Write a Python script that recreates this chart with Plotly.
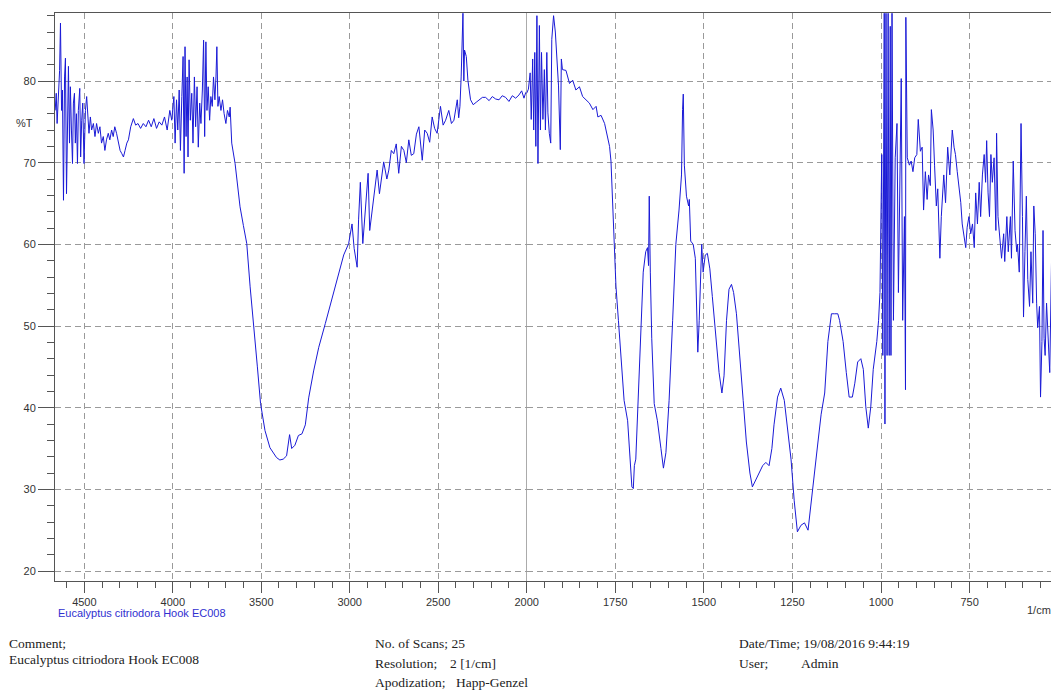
import plotly.graph_objects as go

# ---- data: wavenumber (1/cm) and %T, high range (4666 -> 2000) ----
wn_high = [4665, 4659, 4654, 4646, 4640, 4635, 4629, 4624, 4618, 4612, 4607, 4601, 4596, 4590,
           4584, 4579, 4573, 4567, 4562, 4556, 4551, 4545, 4539, 4534, 4526, 4521, 4515, 4509,
           4502, 4494, 4487, 4481, 4474, 4466, 4459, 4449, 4440, 4431, 4421, 4412, 4403, 4393,
           4384, 4375, 4365, 4356, 4346, 4337, 4328, 4318, 4309, 4298, 4288, 4279, 4270, 4260,
           4251, 4238, 4223, 4210, 4197, 4182, 4167, 4152, 4137, 4122, 4107, 4092, 4077, 4062,
           4047, 4032, 4017, 4006, 3994, 3987, 3979, 3972, 3964, 3957, 3949, 3942, 3936, 3931,
           3925, 3919, 3914, 3908, 3901, 3893, 3886, 3878, 3871, 3863, 3856, 3848, 3841, 3833,
           3826, 3820, 3813, 3807, 3800, 3792, 3785, 3777, 3770, 3762, 3756, 3751, 3745, 3738,
           3728, 3719, 3710, 3700, 3691, 3681, 3676, 3667, 3648, 3620, 3601, 3582, 3563, 3541,
           3522, 3504, 3479, 3451, 3414, 3395, 3376, 3357, 3340, 3328, 3310, 3290, 3270, 3251,
           3232, 3204, 3175, 3138, 3100, 3062, 3034, 3006, 2987, 2975, 2958, 2950, 2940, 2926,
           2908, 2896, 2887, 2864, 2845, 2832, 2808, 2790, 2779, 2765, 2751, 2737, 2723, 2708,
           2694, 2680, 2666, 2652, 2638, 2623, 2609, 2590, 2576, 2562, 2548, 2534, 2520, 2506,
           2487, 2472, 2458, 2440, 2425, 2411, 2400, 2392, 2384, 2377, 2370, 2360, 2355, 2351,
           2341, 2332, 2317, 2302, 2285, 2270, 2250, 2232, 2212, 2194, 2175, 2156, 2138, 2119,
           2100, 2081, 2062, 2043, 2028, 2015, 2005, 2000]
t_high = [76.4, 78.5, 74.8, 77.7, 81.3, 87.1, 76.4, 78.9, 65.4, 80.5, 82.8, 66.2, 77.3, 81.8,
          72.4, 79.3, 74.0, 69.9, 77.3, 78.5, 72.4, 76.0, 69.9, 76.4, 79.1, 70.7, 75.2, 77.3,
          69.9, 76.4, 78.1, 75.2, 73.6, 75.6, 74.0, 74.8, 73.2, 74.8, 73.6, 74.4, 72.4, 73.2,
          71.5, 72.8, 73.6, 72.8, 74.0, 73.2, 74.4, 73.6, 72.4, 71.5, 71.1, 70.7, 71.5, 72.4,
          72.8, 74.4, 75.4, 74.6, 74.8, 74.2, 74.8, 74.4, 75.2, 74.4, 75.4, 74.2, 75.0, 74.6,
          75.6, 74.0, 76.4, 75.2, 78.1, 72.4, 77.7, 74.0, 78.9, 71.5, 78.1, 83.0, 68.7, 84.2,
          73.2, 80.5, 70.7, 82.6, 75.2, 78.5, 72.4, 80.5, 74.4, 79.3, 71.9, 77.3, 74.8, 78.9,
          85.0, 73.2, 84.8, 76.4, 79.3, 75.2, 78.1, 76.9, 80.5, 77.7, 80.5, 84.2, 76.9, 78.1,
          76.4, 77.7, 76.0, 74.8, 76.4, 75.6, 76.8, 72.4, 69.9, 64.6, 62.3, 60.1, 54.8, 50.0,
          45.0, 40.5, 37.2, 35.1, 33.9, 33.6, 33.7, 34.1, 36.7, 35.0, 35.4, 36.6, 36.8, 37.9,
          41.2, 44.5, 47.4, 50.3, 53.5, 56.4, 58.7, 60.1, 62.5, 59.5, 57.2, 63.0, 67.6, 60.1,
          65.8, 68.7, 61.7, 65.8, 69.1, 66.2, 70.1, 68.0, 69.1, 71.5, 71.1, 72.3, 68.7, 72.0,
          71.5, 70.0, 72.8, 70.9, 71.1, 73.5, 74.4, 70.3, 74.0, 73.6, 72.5, 75.6, 74.2, 73.6,
          76.9, 74.6, 75.2, 76.4, 74.8, 75.2, 77.0, 77.7, 75.5, 76.9, 80.5, 88.3, 80.0, 83.8,
          83.0, 80.1, 77.7, 77.1, 77.4, 77.7, 78.0, 78.0, 77.6, 78.1, 77.8, 77.7, 78.2, 78.0,
          77.5, 78.2, 77.9, 78.3, 78.8, 77.9, 78.6, 78.5]

# ---- data: low range (2000 -> 508) ----
wn_low = [2000, 1995, 1990, 1987, 1983, 1980, 1977, 1974, 1971, 1968, 1964, 1961, 1958, 1954,
          1950, 1947, 1943, 1940, 1936, 1932, 1929, 1924, 1919, 1915, 1910, 1905, 1902, 1899,
          1889, 1879, 1870,
          1861, 1851, 1842, 1832, 1823, 1813, 1804, 1799, 1790, 1780, 1776, 1771, 1766, 1762,
          1758, 1753, 1748, 1741, 1734, 1725, 1715, 1709, 1703, 1699, 1696, 1692, 1684, 1678,
          1671, 1664, 1659, 1656, 1654, 1651, 1647, 1640, 1631, 1621, 1614, 1607, 1598, 1588,
          1579, 1570, 1563, 1560, 1558, 1555, 1549, 1543, 1541, 1537, 1530, 1524, 1520, 1517,
          1513, 1508, 1506, 1502, 1496, 1490, 1483, 1476, 1466, 1457, 1449, 1443, 1436, 1429,
          1422, 1416, 1408, 1398, 1389, 1380, 1370, 1363, 1353, 1344, 1334, 1325, 1316, 1308,
          1302, 1292, 1283, 1273, 1264, 1254, 1245, 1236, 1226, 1216, 1206, 1197, 1187, 1178,
          1169, 1159, 1150, 1140, 1131, 1122, 1117, 1107, 1098, 1090, 1081, 1074, 1066, 1057,
          1050, 1043, 1036, 1029, 1022, 1012, 1007, 1003, 998, 995, 991, 989, 986, 983, 980,
          977, 974, 972, 969, 965, 960, 955, 951, 946, 943, 939, 934, 931, 930, 926, 920, 915,
          910, 905, 899, 895, 889, 884, 880, 875, 870, 866, 861, 858, 853, 849, 844, 840, 834,
          830, 823, 818, 812, 806, 799, 794, 790, 785, 780, 775, 771, 766, 761, 757, 752, 747,
          742, 737, 733, 728, 723, 719, 714, 709, 705, 702, 698, 694, 690, 686, 681, 676, 674,
          670, 664, 660, 654, 651, 645, 641, 635, 632, 627, 622, 617, 615, 610, 605, 601, 598,
          594, 590, 586, 581, 577, 572, 569, 565, 561, 558, 553, 550, 546, 543, 540, 537, 533,
          529, 524, 519, 516, 512, 508]
t_low = [78.5, 79.0, 81.0, 75.3, 82.7, 74.0, 83.5, 72.0, 88.0, 69.9, 86.8, 74.0, 83.5, 75.3,
         81.4, 74.0, 83.5, 76.1, 73.6, 72.4, 85.1, 88.0, 86.0, 83.5, 79.4, 71.6, 82.7, 81.4,
         81.3, 79.7, 80.1,
         78.9, 79.3, 78.1, 77.7, 77.3, 76.5, 76.9, 75.6, 75.8, 74.8, 74.0, 73.2, 72.0, 70.2,
         65.9, 60.0, 54.9, 50.7, 46.0, 40.9, 38.4, 34.1, 30.3, 30.1, 32.9, 33.7, 42.2, 50.7,
         56.6, 59.1, 59.6, 57.4, 65.9, 56.6, 48.5, 40.5, 38.4, 35.0, 32.6, 34.5, 40.9, 50.7,
         60.0, 64.2, 68.5, 76.5, 78.4, 69.7, 65.9, 64.7, 65.5, 60.4, 60.0, 58.3, 52.4, 46.8,
         50.7, 58.3, 60.0, 56.6, 58.7, 58.9, 57.0, 53.6, 48.5, 44.3, 41.8, 43.9, 50.7, 54.5,
         55.1, 54.1, 51.5, 46.4, 40.9, 35.8, 32.0, 30.3, 31.2, 32.0, 32.9, 33.3, 32.9, 35.0,
         37.9, 41.3, 42.4, 40.9, 37.5, 33.7, 28.6, 24.8, 25.6, 25.9, 25.0, 28.6, 32.9, 35.8,
         39.2, 41.8, 48.1, 51.5, 51.5, 51.5, 50.7, 48.1, 44.3, 41.3, 41.3, 43.0, 45.6, 46.0,
         44.7, 40.1, 37.5, 40.1, 44.7, 48.1, 50.7, 54.1, 71.0, 46.4, 88.3, 38.0, 88.3, 46.4, 88.3,
         46.4, 86.7, 46.4, 88.3, 50.7, 70.6, 74.8, 54.1, 71.9, 80.3, 50.7, 63.4, 42.2, 87.8, 70.6,
         69.7, 70.2, 68.9, 70.6, 71.0, 75.3, 71.4, 71.9, 64.2, 68.9, 65.5, 68.5, 67.2, 76.5,
         74.0, 69.7, 64.7, 66.8, 58.3, 63.4, 68.5, 65.1, 71.9, 68.5, 74.0, 71.9, 71.0, 68.9,
         66.8, 65.1, 62.5, 61.3, 59.6, 62.1, 63.4, 61.3, 62.5, 59.6, 66.3, 62.5, 67.6, 63.4,
         68.5, 71.0, 67.6, 72.7, 66.3, 63.4, 71.0, 67.6, 70.6, 61.7, 73.6, 63.4, 59.6, 58.3,
         61.3, 57.9, 63.4, 59.1, 63.4, 58.3, 70.2, 61.7, 59.1, 60.0, 56.6, 74.8, 63.4, 51.1,
         59.1, 65.9, 55.7, 52.4, 59.1, 52.8, 64.7, 61.3, 52.8, 49.8, 52.4, 41.3, 48.1, 61.7,
         48.5, 46.4, 52.8, 48.1, 44.3, 57.9, 48.1, 46.4, 50.7]

# ---- axes ticks ----
x_high_ticks = [4500, 4000, 3500, 3000, 2500, 2000]
x_low_ticks = [1750, 1500, 1250, 1000, 750]
y_ticks = [20, 30, 40, 50, 60, 70, 80]

X_HIGH_RANGE = [4666, 2000]
X_LOW_RANGE = [2000, 512]
Y_RANGE = [18.78, 88.33]

LINE_COLOR = "#1a1ad6"
AXIS_COLOR = "#555555"
GRID_COLOR = "#9a9a9a"
SANS = "Liberation Sans, Arial, sans-serif"
TICK_FONT = dict(family=SANS, size=11, color="#333333")
SERIF = "Liberation Serif, Times New Roman, serif"

FIG_W = 1066

fig = go.Figure()
fig.add_trace(go.Scatter(x=wn_high, y=t_high, mode="lines", xaxis="x", yaxis="y",
                         line=dict(color=LINE_COLOR, width=1), showlegend=False))
fig.add_trace(go.Scatter(x=wn_low, y=t_low, mode="lines", xaxis="x2", yaxis="y",
                         line=dict(color=LINE_COLOR, width=1), showlegend=False))

split = 0.4721
common_x = dict(
    showline=True, linecolor=AXIS_COLOR, linewidth=1, mirror=True,
    ticks="outside", ticklen=11, tickcolor=AXIS_COLOR, tickwidth=1,
    showgrid=True, gridcolor=GRID_COLOR, griddash="6px,4px", gridwidth=1,
    zeroline=False, tickfont=TICK_FONT, anchor="y",
)
fig.update_layout(
    width=FIG_W, height=690, autosize=False,
    margin=dict(l=55, r=0, t=13, b=109),
    paper_bgcolor="white", plot_bgcolor="white",
    xaxis=dict(domain=[0, split], range=X_HIGH_RANGE, autorange=False,
               tickmode="array", tickvals=x_high_ticks, ticktext=[str(v) for v in x_high_ticks],
               minor=dict(ticks="outside", ticklen=6, tickcolor=AXIS_COLOR, dtick=100, tick0=0, showgrid=False),
               **common_x),
    xaxis2=dict(domain=[split, 1], range=X_LOW_RANGE, autorange=False,
                tickmode="array", tickvals=x_low_ticks, ticktext=[str(v) for v in x_low_ticks],
                minor=dict(ticks="outside", ticklen=6, tickcolor=AXIS_COLOR, dtick=50, tick0=0, showgrid=False),
                **common_x),
    yaxis=dict(domain=[0, 1], range=Y_RANGE, autorange=False,
               tickmode="array", tickvals=y_ticks, ticktext=[str(v) for v in y_ticks],
               ticks="outside", ticklen=16, tickcolor=AXIS_COLOR,
               minor=dict(ticks="outside", ticklen=7, tickcolor=AXIS_COLOR, dtick=2, tick0=0, showgrid=False),
               showline=True, linecolor=AXIS_COLOR, linewidth=1,
               showgrid=True, gridcolor=GRID_COLOR, griddash="6px,4px",
               zeroline=False, tickfont=TICK_FONT),
)

# solid separator at the scale change
fig.add_shape(type="line", xref="x", yref="paper", x0=2000, x1=2000, y0=0, y1=1,
              line=dict(color="#666666", width=1), layer="below")

PW, PH, L, B = 997.0, 568.0, 54.0, 581.0


def px(x):
    return (x - L) / PW


def py(y):
    return (B - y) / PH


ann = []
ann.append(dict(text="%T", x=px(24), y=py(123), xanchor="center", yanchor="middle",
                font=dict(family=SANS, size=11, color="#333333")))
ann.append(dict(text="Eucalyptus citriodora Hook EC008", x=px(55), y=py(613), xanchor="left", yanchor="middle",
                font=dict(family=SANS, size=11, color="#3030d0")))
ann.append(dict(text="1/cm", x=px(1050), y=py(610), xanchor="right", yanchor="middle",
                font=dict(family=SANS, size=11, color="#333333")))
serif_texts = [
    ("Comment;", 6, 643),
    ("Eucalyptus citriodora Hook EC008", 6, 659),
    ("No. of Scans; 25", 371, 643),
    ("Resolution;", 371, 663),
    ("2 [1/cm]", 446, 663),
    ("Apodization;", 371, 682),
    ("Happ-Genzel", 452, 682),
    ("Date/Time; 19/08/2016 9:44:19", 735, 643),
    ("User;", 735, 663),
    ("Admin", 797, 663),
]
for t, x, y in serif_texts:
    ann.append(dict(text=t, x=px(x), y=py(y), xanchor="left", yanchor="middle",
                    font=dict(family=SERIF, size=13.5, color="#222222")))
for a in ann:
    a.update(xref="paper", yref="paper", showarrow=False)
fig.update_layout(annotations=ann)

fig.write_html("out.html")
